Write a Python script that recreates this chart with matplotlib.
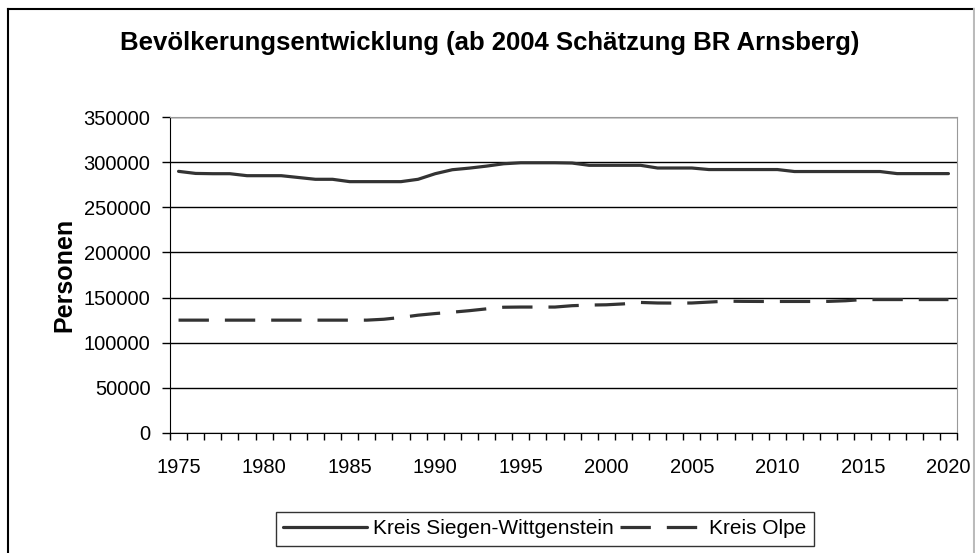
import numpy as np
import matplotlib.pyplot as plt
import matplotlib as mpl
from matplotlib.lines import Line2D

mpl.rcParams["font.family"] = ["Liberation Sans", "DejaVu Sans"]

years = list(range(1975, 2021))

siegen = [289800, 287500, 287200, 287200, 285000, 285000, 285000, 283000,
          281000, 281000, 278400, 278400, 278400, 278400, 281000, 287200,
          291600, 293400, 295600, 298200, 299300, 299300, 299300, 299000,
          296500, 296500, 296500, 296500, 293500, 293500, 293500, 291800,
          291800, 291800, 291800, 291800, 289600, 289600, 289600, 289600,
          289600, 289600, 287300, 287300, 287300, 287300]

olpe = [125000, 125000, 125000, 125000, 125000, 125000, 125000, 125000,
        125000, 125000, 125000, 125000, 126000, 128000, 130500, 132300,
        133800, 135500, 137500, 139300, 139500, 139500, 139500, 141000,
        141700, 142000, 143000, 144600, 144000, 143900, 144000, 145000,
        146000, 145800, 145700, 145700, 145700, 145700, 145800, 146500,
        147800, 147800, 147800, 147800, 147800, 147800]

title = "Bevölkerungsentwicklung (ab 2004 Schätzung BR Arnsberg)"
labels = ["Kreis Siegen-Wittgenstein", "Kreis Olpe"]

W, H = 975, 553
fig = plt.figure(figsize=(W / 100, H / 100), dpi=100)

# outer chart frame (top/left black, right light gray)
fig.add_artist(Line2D([8 / W, 1], [1 - 9 / H, 1 - 9 / H], transform=fig.transFigure, color="black", lw=1.5))
fig.add_artist(Line2D([8 / W, 8 / W], [0, 1 - 9 / H], transform=fig.transFigure, color="black", lw=1.5))
fig.add_artist(Line2D([973.5 / W, 973.5 / W], [0, 1 - 9 / H], transform=fig.transFigure, color="#bbbbbb", lw=1.5))

ax = fig.add_axes([170 / W, (H - 433) / H, 787 / W, 316 / H])

lc = "#333333"
ax.plot(years, siegen, color=lc, linewidth=2.3, solid_capstyle="round", label=labels[0])
ax.plot(years, olpe, color=lc, linewidth=2.3, dashes=(9.5, 5), dash_capstyle="butt", label=labels[1])

# categories sit between tick marks
ax.set_xlim(1974.5, 2020.5)
ax.set_ylim(0, 350000)
ax.set_yticks(np.arange(0, 350001, 50000))
ax.set_xticks(range(1975, 2021, 5))
ax.set_xticks(np.arange(1974.5, 2021, 1), minor=True)
ax.tick_params(axis="x", which="major", length=0, labelsize=14.5, pad=18)
ax.tick_params(axis="x", which="minor", direction="out", length=5, width=1, color="black")
ax.tick_params(axis="y", direction="out", length=6, width=1, labelsize=14.5, pad=8)

ax.grid(axis="y", color="black", linewidth=1)
ax.set_axisbelow(True)
for s in ["top", "right"]:
    ax.spines[s].set_color("#999999")
for s in ["left", "bottom"]:
    ax.spines[s].set_color("black")

ax.set_ylabel("Personen", fontsize=18, fontweight="bold", labelpad=5)
fig.text(490 / W, 1 - 43 / H, title, ha="center", va="center", fontsize=18.5, fontweight="bold")

leg = fig.legend(loc="center", bbox_to_anchor=(545 / W, 24 / H), ncol=2, fontsize=15,
                 frameon=True, fancybox=False, edgecolor="black", handlelength=4,
                 columnspacing=0.3, handletextpad=0.3, borderpad=0.35, borderaxespad=0)
leg.get_frame().set_linewidth(1)

fig.savefig("out.png", dpi=100)
